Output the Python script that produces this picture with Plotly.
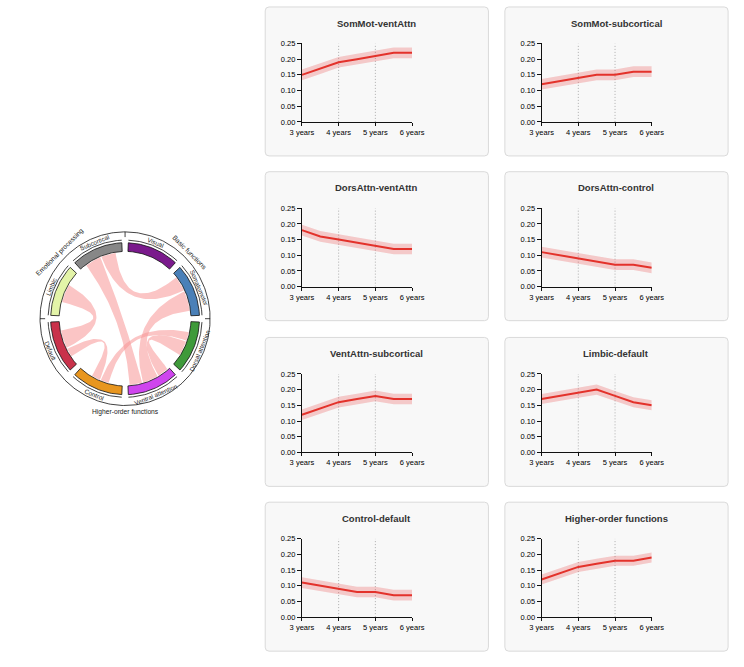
import numpy as np
import plotly.graph_objects as go

W, H = 744, 667

# ---------------- data ----------------
years = [3, 3.5, 4, 4.5, 5, 5.5, 6]
tick_years = [3, 4, 5, 6]
tick_labels = ["3 years", "4 years", "5 years", "6 years"]
guide_years = [4, 5]
y_ticks = [0.00, 0.05, 0.10, 0.15, 0.20, 0.25]

panel_titles = ["SomMot-ventAttn", "SomMot-subcortical", "DorsAttn-ventAttn", "DorsAttn-control",
                "VentAttn-subcortical", "Limbic-default", "Control-default", "Higher-order functions"]
sommot_ventattn = [0.15, 0.17, 0.19, 0.20, 0.21, 0.22, 0.22]
sommot_subcortical = [0.12, 0.13, 0.14, 0.15, 0.15, 0.16, 0.16]
dorsattn_ventattn = [0.18, 0.16, 0.15, 0.14, 0.13, 0.12, 0.12]
dorsattn_control = [0.11, 0.10, 0.09, 0.08, 0.07, 0.07, 0.06]
ventattn_subcortical = [0.12, 0.14, 0.16, 0.17, 0.18, 0.17, 0.17]
limbic_default = [0.17, 0.18, 0.19, 0.20, 0.18, 0.16, 0.15]
control_default = [0.11, 0.10, 0.09, 0.08, 0.08, 0.07, 0.07]
higher_order = [0.12, 0.14, 0.16, 0.17, 0.18, 0.18, 0.19]
panel_values = [sommot_ventattn, sommot_subcortical, dorsattn_ventattn, dorsattn_control,
                ventattn_subcortical, limbic_default, control_default, higher_order]
panel_se = [0.017, 0.017, 0.017, 0.017, 0.017, 0.016, 0.017, 0.016]

networks = ["Visual", "Somatomotor", "Dorsal attention", "Ventral attention",
            "Control", "Default", "Limbic", "Subcortical"]
network_colors = ["#7a1a8c", "#4a80b8", "#3f9a3a", "#cf45ee",
                  "#e8961f", "#c9324b", "#e3f4a8", "#878787"]
groups = ["Basic functions", "Higher-order functions", "Emotional processing"]
group_sizes = [2, 4, 2]
links = [("Somatomotor", "Ventral attention"), ("Somatomotor", "Subcortical"),
         ("Dorsal attention", "Ventral attention"), ("Dorsal attention", "Control"),
         ("Ventral attention", "Subcortical"), ("Limbic", "Default"), ("Control", "Default")]
link_strength = [float(np.mean(v)) for v in panel_values[:7]]

# ---------------- styling ----------------
FONT = "Arial, Liberation Sans, sans-serif"
RED = "#e3322b"
BAND = "rgba(235,80,80,0.28)"
CARD_FILL = "#f8f8f8"
CARD_LINE = "#dadada"

card_left = [262, 510]
card_top = [3, 170, 338, 505]
card_w, card_h = 231, 151


def px(x):
    return x / W


def py(y):
    return 1 - y / H


fig = go.Figure()
shapes = []
annotations = []
layout_axes = {}

# cards
for row in range(4):
    for col in range(2):
        x0, x1 = card_left[col], card_left[col] + card_w
        y0, y1 = card_top[row], card_top[row] + card_h
        r = 4
        path = (f"M {px(x0 + r)},{py(y0)} L {px(x1 - r)},{py(y0)} Q {px(x1)},{py(y0)} {px(x1)},{py(y0 + r)} "
                f"L {px(x1)},{py(y1 - r)} Q {px(x1)},{py(y1)} {px(x1 - r)},{py(y1)} "
                f"L {px(x0 + r)},{py(y1)} Q {px(x0)},{py(y1)} {px(x0)},{py(y1 - r)} "
                f"L {px(x0)},{py(y0 + r)} Q {px(x0)},{py(y0)} {px(x0 + r)},{py(y0)} Z")
        shapes.append(dict(type="path", path=path, xref="paper", yref="paper",
                           fillcolor=CARD_FILL, line=dict(color=CARD_LINE, width=1), layer="below"))

# line panels
for i, (title, vals, se) in enumerate(zip(panel_titles, panel_values, panel_se)):
    row, col = i // 2, i % 2
    k = i + 1
    xa = "x" if k == 1 else f"x{k}"
    ya = "y" if k == 1 else f"y{k}"
    cl, ct = card_left[col], card_top[row]
    layout_axes["xaxis" if k == 1 else f"xaxis{k}"] = dict(
        domain=[px(cl + 38), px(cl + 152)], anchor=ya, range=[3, 6],
        tickvals=tick_years, ticktext=tick_labels, showline=True, linecolor="#111", linewidth=1,
        ticks="outside", ticklen=3, tickwidth=1, tickcolor="#111", showgrid=False, zeroline=False,
        tickfont=dict(size=7.5, color="#000", family=FONT), fixedrange=True)
    layout_axes["yaxis" if k == 1 else f"yaxis{k}"] = dict(
        domain=[py(ct + 116.5), py(ct + 37)], anchor=xa, range=[0, 0.25],
        tickvals=y_ticks, tickformat=".2f", showline=True, linecolor="#111", linewidth=1,
        ticks="outside", ticklen=4, tickwidth=1, tickcolor="#111", showgrid=False, zeroline=False,
        tickfont=dict(size=7.5, color="#000", family=FONT), fixedrange=True)
    v = np.array(vals)
    upper = list(v + se)
    lower = list(v - se)
    fig.add_trace(go.Scatter(x=years + years[::-1], y=upper + lower[::-1], fill="toself",
                             fillcolor=BAND, line=dict(width=0), mode="lines",
                             xaxis=xa, yaxis=ya, hoverinfo="skip", showlegend=False))
    fig.add_trace(go.Scatter(x=years, y=vals, mode="lines", line=dict(color=RED, width=2),
                             xaxis=xa, yaxis=ya, showlegend=False))
    for g in guide_years:
        shapes.append(dict(type="line", xref=xa, yref=ya, x0=g, x1=g, y0=0, y1=0.25,
                           line=dict(color="#adadad", width=1, dash="1px,2px"), layer="below"))
    annotations.append(dict(x=px(cl + card_w / 2), y=py(ct + 16.3), xref="paper", yref="paper",
                            text=title, showarrow=False, xanchor="center", yanchor="middle",
                            font=dict(size=9.5, color="#333", family=FONT, weight="bold")))

# ---------------- chord diagram ----------------
cx, cy, unit = 117, 319, 88
R = 1.3
layout_axes["xaxis9"] = dict(domain=[px(cx - R * unit), px(cx + R * unit)], anchor="y9",
                             range=[-R, R], visible=False, fixedrange=True)
layout_axes["yaxis9"] = dict(domain=[py(cy + R * unit), py(cy - R * unit)], anchor="x9",
                             range=[-R, R], visible=False, fixedrange=True)


def pol(r, deg):
    t = np.radians(np.asarray(deg, dtype=float))
    return r * np.sin(t), r * np.cos(t)


n = len(networks)
span = 360 / n
pad = 2.5
net_start = {nm: span * i + pad for i, nm in enumerate(networks)}
net_end = {nm: span * (i + 1) - pad for i, nm in enumerate(networks)}
net_center = {nm: span * i + span / 2 for i, nm in enumerate(networks)}

r_chord, r_in, r_out, r_line, r_circle = 0.765, 0.775, 0.875, 0.905, 1.0

# allocate chord ends within each network (scaled down where a network is crowded)
link_width = [90 * s for s in link_strength]
avail = span - 2 * pad - 3
ends = {}
for nm in networks:
    items = []
    for li, (a, b) in enumerate(links):
        if nm in (a, b):
            partner = b if nm == a else a
            diff = (net_center[partner] - net_center[nm]) % 360
            items.append((diff, li))
    items.sort(key=lambda t: -t[0])
    gap = 1
    raw = sum(link_width[li] for _, li in items)
    scale = min(1.0, (avail - gap * max(len(items) - 1, 0)) / raw) if raw else 1.0
    total = raw * scale + gap * max(len(items) - 1, 0)
    pos = net_center[nm] - total / 2
    for _, li in items:
        w = link_width[li] * scale
        ends[(nm, li)] = (pos, pos + w)
        pos += w + gap


def quad(p0, p2):
    t = np.linspace(0, 1, 50)[:, None]
    pts = (1 - t) ** 2 * np.array(p0) + t ** 2 * np.array(p2)
    return pts[:, 0], pts[:, 1]


for li, (a, b) in enumerate(links):
    a0, a1 = ends[(a, li)]
    b0, b1 = ends[(b, li)]
    xa_, ya_ = pol(r_chord, np.linspace(a0, a1, 20))
    xb_, yb_ = pol(r_chord, np.linspace(b0, b1, 20))
    q1x, q1y = quad((xa_[-1], ya_[-1]), (xb_[0], yb_[0]))
    q2x, q2y = quad((xb_[-1], yb_[-1]), (xa_[0], ya_[0]))
    xs = np.concatenate([xa_, q1x, xb_, q2x])
    ys = np.concatenate([ya_, q1y, yb_, q2y])
    fig.add_trace(go.Scatter(x=xs, y=ys, fill="toself", fillcolor="rgba(248,150,150,0.55)",
                             line=dict(width=0), mode="lines", xaxis="x9", yaxis="y9",
                             hoverinfo="skip", showlegend=False))

for nm, colr in zip(networks, network_colors):
    ang = np.linspace(net_start[nm], net_end[nm], 40)
    xo, yo = pol(r_out, ang)
    xi, yi = pol(r_in, ang[::-1])
    fig.add_trace(go.Scatter(x=np.concatenate([xo, xi, xo[:1]]), y=np.concatenate([yo, yi, yo[:1]]),
                             fill="toself", fillcolor=colr, line=dict(color="#111", width=0.8),
                             mode="lines", xaxis="x9", yaxis="y9", hoverinfo="skip", showlegend=False))
    xl, yl = pol(r_line, ang)
    fig.add_trace(go.Scatter(x=xl, y=yl, mode="lines", line=dict(color="#111", width=0.8),
                             xaxis="x9", yaxis="y9", hoverinfo="skip", showlegend=False))
    c = net_center[nm]
    lx, ly = pol(0.948, c)
    ta = c if (c <= 90 or c >= 270) else c - 180
    if ta > 180:
        ta -= 360
    annotations.append(dict(x=float(lx), y=float(ly), xref="x9", yref="y9", text=nm, showarrow=False,
                            textangle=ta, xanchor="center", yanchor="middle",
                            font=dict(size=6.3, color="#222", family=FONT)))

# outer circle
ang = np.linspace(0, 360, 361)
xc, yc = pol(r_circle, ang)
fig.add_trace(go.Scatter(x=xc, y=yc, mode="lines", line=dict(color="#111", width=0.8),
                         xaxis="x9", yaxis="y9", hoverinfo="skip", showlegend=False))
bounds = np.cumsum([0] + group_sizes)[:-1] * span
for bd in bounds:
    tx, ty = pol(np.array([0.94, 1.0]), [bd, bd])
    fig.add_trace(go.Scatter(x=tx, y=ty, mode="lines", line=dict(color="#111", width=0.8),
                             xaxis="x9", yaxis="y9", hoverinfo="skip", showlegend=False))
start = 0
for gname, gs in zip(groups, group_sizes):
    c = (start + gs / 2) * span
    start += gs
    gx, gy = pol(1.08, c)
    ta = c if (c <= 90 or c >= 270) else c - 180
    if ta > 180:
        ta -= 360
    annotations.append(dict(x=float(gx), y=float(gy), xref="x9", yref="y9", text=gname, showarrow=False,
                            textangle=ta, xanchor="center", yanchor="middle",
                            font=dict(size=6.7, color="#222", family=FONT)))

fig.update_layout(width=W, height=H, margin=dict(l=0, r=0, t=0, b=0),
                  paper_bgcolor="white", plot_bgcolor="rgba(0,0,0,0)",
                  shapes=shapes, annotations=annotations, showlegend=False,
                  font=dict(family=FONT), **layout_axes)

fig.write_html("out.html", config={"displayModeBar": False})
